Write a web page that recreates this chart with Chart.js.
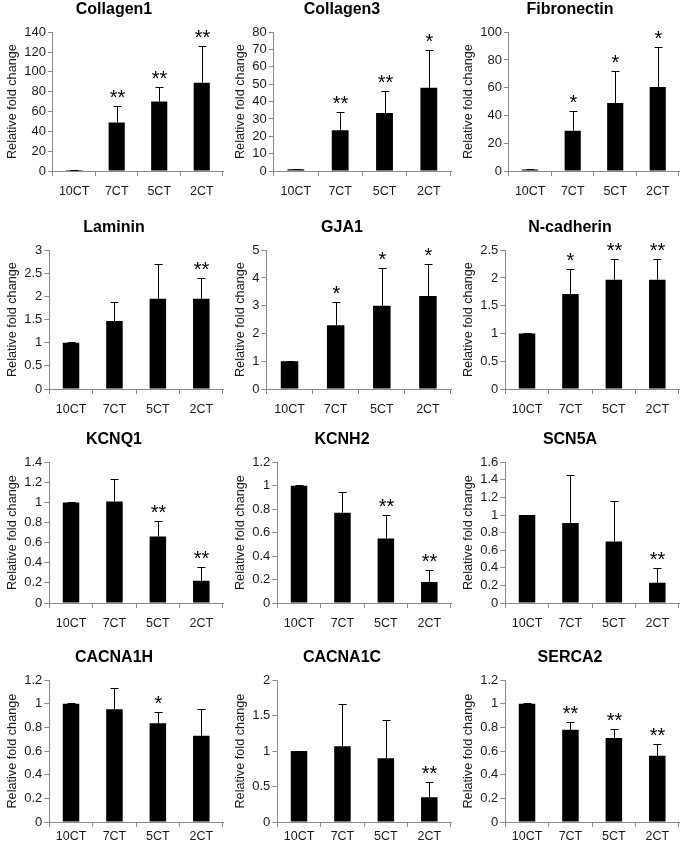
<!DOCTYPE html>
<html>
<head>
<meta charset="utf-8">
<script src="https://cdn.jsdelivr.net/npm/chart.js@4"></script>
<style>
    html, body { margin: 0; padding: 0; background: #ffffff; }
    #figure { position: relative; width: 684px; height: 842px; overflow: hidden; }
    #figure canvas { position: absolute; }
</style>
</head>
<body>
<div id="figure"></div>
<script>
const groups = ["10CT", "7CT", "5CT", "2CT"];

const collagen1 = [1, 49, 70, 89];
const collagen1Err = [0.3, 17, 15, 37];
const collagen1Stars = ["", "**", "**", "**"];

const collagen3 = [1, 23.5, 33.5, 48];
const collagen3Err = [0.2, 10.5, 12.5, 22];
const collagen3Stars = ["", "**", "**", "*"];

const fibronectin = [1, 29, 49, 60.5];
const fibronectinErr = [0.3, 14, 23, 28.5];
const fibronectinStars = ["", "*", "*", "*"];

const laminin = [1, 1.47, 1.95, 1.95];
const lamininErr = [0.01, 0.41, 0.75, 0.45];
const lamininStars = ["", "", "", "**"];

const gja1 = [1, 2.3, 3.0, 3.35];
const gja1Err = [0.01, 0.85, 1.35, 1.17];
const gja1Stars = ["", "*", "*", "*"];

const nCadherin = [1, 1.71, 1.97, 1.97];
const nCadherinErr = [0.005, 0.46, 0.38, 0.38];
const nCadherinStars = ["", "*", "**", "**"];

const kcnq1 = [1, 1.01, 0.66, 0.22];
const kcnq1Err = [0.003, 0.22, 0.16, 0.14];
const kcnq1Stars = ["", "", "**", "**"];

const kcnh2 = [1, 0.77, 0.55, 0.18];
const kcnh2Err = [0.003, 0.18, 0.2, 0.1];
const kcnh2Stars = ["", "", "**", "**"];

const scn5a = [1, 0.91, 0.7, 0.23];
const scn5aErr = [0.003, 0.55, 0.46, 0.17];
const scn5aStars = ["", "", "", "**"];

const cacna1h = [1, 0.955, 0.835, 0.73];
const cacna1hErr = [0.003, 0.18, 0.095, 0.23];
const cacna1hStars = ["", "", "*", ""];

const cacna1c = [1, 1.07, 0.9, 0.35];
const cacna1cErr = [0.005, 0.6, 0.54, 0.22];
const cacna1cStars = ["", "", "", "**"];

const serca2 = [1, 0.78, 0.71, 0.56];
const serca2Err = [0.003, 0.07, 0.08, 0.1];
const serca2Stars = ["", "**", "**", "**"];

const panels = [
    { title: "Collagen1", values: collagen1, errors: collagen1Err, stars: collagen1Stars, max: 140, step: 20 },
    { title: "Collagen3", values: collagen3, errors: collagen3Err, stars: collagen3Stars, max: 80, step: 10 },
    { title: "Fibronectin", values: fibronectin, errors: fibronectinErr, stars: fibronectinStars, max: 100, step: 20 },
    { title: "Laminin", values: laminin, errors: lamininErr, stars: lamininStars, max: 3, step: 0.5 },
    { title: "GJA1", values: gja1, errors: gja1Err, stars: gja1Stars, max: 5, step: 1 },
    { title: "N-cadherin", values: nCadherin, errors: nCadherinErr, stars: nCadherinStars, max: 2.5, step: 0.5 },
    { title: "KCNQ1", values: kcnq1, errors: kcnq1Err, stars: kcnq1Stars, max: 1.4, step: 0.2 },
    { title: "KCNH2", values: kcnh2, errors: kcnh2Err, stars: kcnh2Stars, max: 1.2, step: 0.2 },
    { title: "SCN5A", values: scn5a, errors: scn5aErr, stars: scn5aStars, max: 1.6, step: 0.2 },
    { title: "CACNA1H", values: cacna1h, errors: cacna1hErr, stars: cacna1hStars, max: 1.2, step: 0.2 },
    { title: "CACNA1C", values: cacna1c, errors: cacna1cErr, stars: cacna1cStars, max: 2, step: 0.5 },
    { title: "SERCA2", values: serca2, errors: serca2Err, stars: serca2Stars, max: 1.2, step: 0.2 }
];

// page layout of the 3 x 4 grid
const columnLeft = [0, 228, 456];
const rowTop = [0, 218, 430, 648];
const rowHeight = [198, 198, 200, 194];
const rowAxisHeight = [27, 27, 27, 20];
const rowLabelPad = [8, 8, 8, 2];

const axisGrey = "#8a8a8a";
const textColour = "#1a1a1a";
const fontFamily = "'Liberation Sans', Arial, sans-serif";

const errorBarPlugin = {
    id: "errorBars",
    afterDatasetsDraw(chart, args, opts) {
        const ctx = chart.ctx;
        const yScale = chart.scales.y;
        const dataset = chart.data.datasets[0];
        const meta = chart.getDatasetMeta(0);

        ctx.save();
        ctx.strokeStyle = "#000000";
        ctx.fillStyle = "#000000";
        ctx.lineWidth = 1;
        ctx.font = "20px " + fontFamily;
        ctx.textAlign = "center";
        ctx.textBaseline = "alphabetic";

        meta.data.forEach((bar, i) => {
            const top = Math.round(yScale.getPixelForValue(dataset.data[i] + opts.errors[i])) + 0.5;
            const x = Math.round(bar.x) + 0.5;

            ctx.beginPath();
            ctx.moveTo(x, bar.y);
            ctx.lineTo(x, top);
            ctx.moveTo(x - 4, top);
            ctx.lineTo(x + 4, top);
            ctx.stroke();

            if (opts.stars[i]) {
                ctx.fillText(opts.stars[i], x, top - 3);
            }
        });
        ctx.restore();
    }
};

function createPanel(panel, index) {
    const row = Math.floor(index / 3);
    const column = index % 3;
    const canvas = document.createElement("canvas");

    canvas.width = 228;
    canvas.height = rowHeight[row];
    canvas.style.left = columnLeft[column] + "px";
    canvas.style.top = rowTop[row] + "px";
    document.getElementById("figure").appendChild(canvas);

    return new Chart(canvas, {
        type: "bar",
        data: {
            labels: groups,
            datasets: [{
                data: panel.values,
                backgroundColor: "#000000",
                borderWidth: 0,
                barPercentage: 0.38,
                categoryPercentage: 1
            }]
        },
        options: {
            responsive: false,
            animation: false,
            devicePixelRatio: 1,
            layout: { padding: { left: 5, right: 5, top: 0, bottom: 0 } },
            plugins: {
                legend: { display: false },
                tooltip: { enabled: false },
                title: {
                    display: true,
                    text: panel.title,
                    color: "#000000",
                    font: { family: fontFamily, size: 16, weight: "bold" },
                    padding: { top: 0, bottom: 13 }
                },
                errorBars: { errors: panel.errors, stars: panel.stars }
            },
            scales: {
                x: {
                    offset: true,
                    border: { display: true, color: axisGrey, width: 1 },
                    grid: { display: true, drawOnChartArea: false, drawTicks: true, tickLength: 5, color: axisGrey, offset: true },
                    ticks: {
                        color: textColour,
                        padding: rowLabelPad[row],
                        maxRotation: 0,
                        font: { family: fontFamily, size: 12.5 }
                    },
                    afterFit: (scale) => { scale.height = rowAxisHeight[row]; }
                },
                y: {
                    min: 0,
                    max: panel.max,
                    border: { display: true, color: axisGrey, width: 1 },
                    grid: { display: true, drawOnChartArea: false, drawTicks: true, tickLength: 5, color: axisGrey },
                    ticks: {
                        stepSize: panel.step,
                        autoSkip: false,
                        color: textColour,
                        padding: 2,
                        font: { family: fontFamily, size: 13 },
                        callback: (value) => String(Number(value.toFixed(2)))
                    },
                    title: {
                        display: true,
                        text: "Relative fold change",
                        color: textColour,
                        padding: { top: 0, bottom: 2 },
                        font: { family: fontFamily, size: 12.7 }
                    }
                }
            }
        },
        plugins: [errorBarPlugin]
    });
}

panels.forEach(createPanel);
</script>
</body>
</html>
